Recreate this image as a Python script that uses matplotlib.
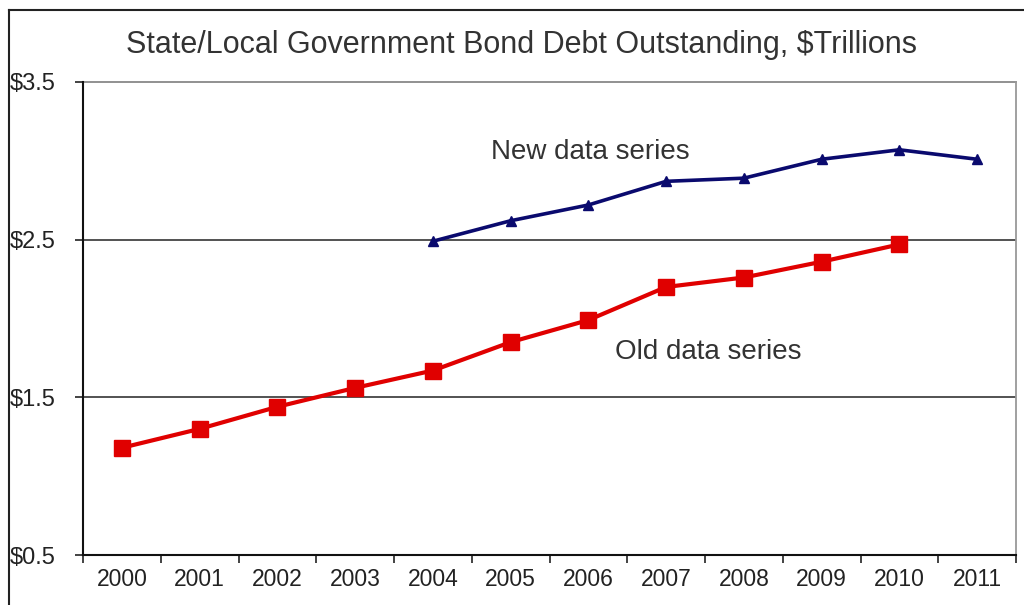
import matplotlib
matplotlib.use("Agg")
import matplotlib.pyplot as plt
from matplotlib.lines import Line2D

years = ["2000", "2001", "2002", "2003", "2004", "2005", "2006", "2007", "2008", "2009", "2010", "2011"]
old_years = years[:11]
old_values = [1.18, 1.30, 1.44, 1.56, 1.67, 1.85, 1.99, 2.20, 2.26, 2.36, 2.47]
new_years = years[4:]
new_values = [2.49, 2.62, 2.72, 2.87, 2.89, 3.01, 3.07, 3.01]
yticks = [0.5, 1.5, 2.5, 3.5]
ytick_labels = ["$0.5", "$1.5", "$2.5", "$3.5"]
title = "State/Local Government Bond Debt Outstanding, $Trillions"

plt.rcParams['font.family'] = ['Liberation Sans', 'DejaVu Sans']

fig = plt.figure(figsize=(10.24, 6.05), dpi=100)
ax = fig.add_axes([83/1024, 1-555/605, (1016-83)/1024, (555-82)/605])

idx = {y: i for i, y in enumerate(years)}
ox = [idx[y] for y in old_years]
nx = [idx[y] for y in new_years]

ax.plot(ox, old_values, color="#e00000", lw=3, marker="s", ms=12, mec="#e00000", mfc="#e00000", zorder=3)
ax.plot(nx, new_values, color="#0a0a6e", lw=2.6, marker="^", ms=7, mec="#0a0a6e", mfc="#0a0a6e", zorder=3)

ax.set_xlim(-0.5, len(years) - 0.5)
ax.set_ylim(0.5, 3.5)
ax.set_yticks(yticks)
ax.set_yticklabels(ytick_labels)
ax.set_xticks(range(len(years)))
ax.set_xticklabels(years)
ax.set_xticks([i - 0.5 for i in range(len(years) + 1)], minor=True)
ax.tick_params(axis="x", which="major", length=0, pad=9, labelsize=16.5, colors="#222222")
ax.tick_params(axis="x", which="minor", length=5.5, width=1.2, color="#222222", direction="out")
ax.tick_params(axis="y", length=6, width=1.2, color="#222222", pad=46.5, labelsize=17, labelcolor="#222222")
for lab in ax.get_yticklabels():
    lab.set_horizontalalignment("left")

for v in [1.5, 2.5]:
    ax.axhline(v, color="#444444", lw=1.3, zorder=1)
ax.axhline(3.5, color="#888888", lw=1.3, zorder=1, clip_on=False)

ax.spines["left"].set_color("#111111")
ax.spines["left"].set_linewidth(1.5)
ax.spines["bottom"].set_color("#111111")
ax.spines["bottom"].set_linewidth(1.5)
ax.spines["right"].set_color("#999999")
ax.spines["right"].set_linewidth(1.3)
ax.spines["top"].set_visible(False)

ax.text(6.03, 3.056, "New data series", fontsize=20, color="#333333", ha="center", va="center")
ax.text(7.54, 1.79, "Old data series", fontsize=20, color="#333333", ha="center", va="center")

fig.text(521/1024, 1-45/605, title, fontsize=22, color="#333333", ha="center", va="center")

fig.add_artist(Line2D([9/1024, 9/1024], [0, 1-10/605], color="#222222", lw=1.5, transform=fig.transFigure))
fig.add_artist(Line2D([9/1024, 1], [1-10/605, 1-10/605], color="#222222", lw=1.5, transform=fig.transFigure))

fig.savefig("out.png", dpi=100)
